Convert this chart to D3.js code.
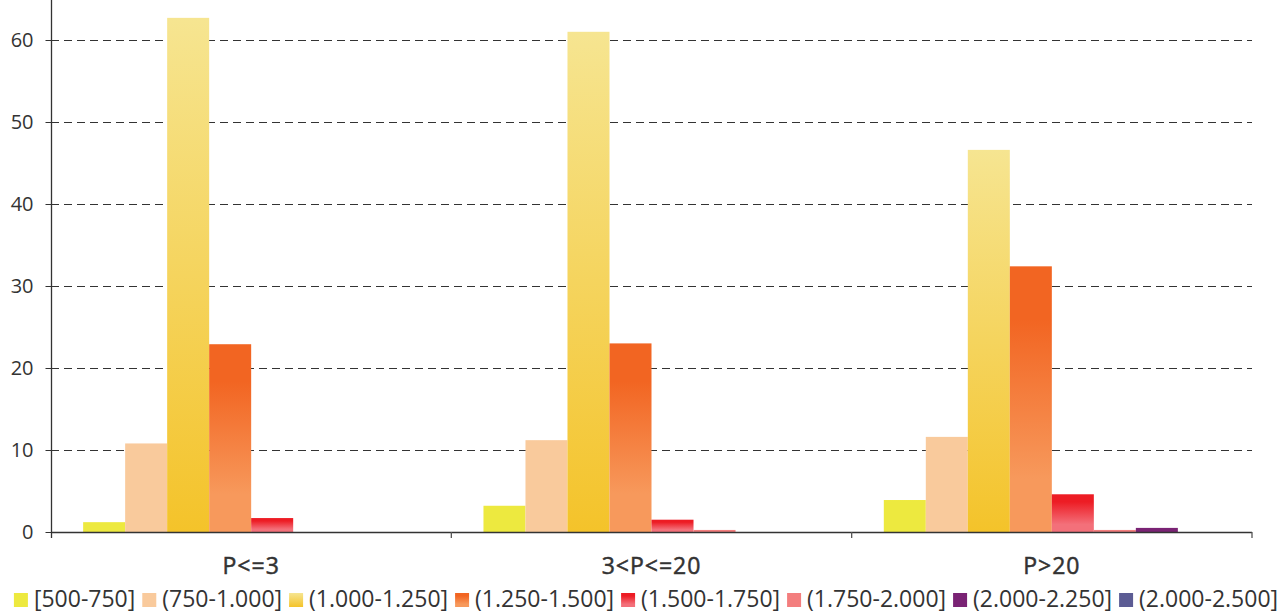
<!DOCTYPE html>
<html><head><meta charset="utf-8">
<script src="https://cdn.jsdelivr.net/npm/d3@7"></script>
<style>
html,body{margin:0;padding:0;background:#fff;}
svg{display:block;font-family:"Open Sans",sans-serif;}
</style></head>
<body>
<svg id="c" width="1286" height="613"></svg>
<script>
const categories = ["P<=3", "3<P<=20", "P>20"];
const seriesNames = ["[500-750]", "(750-1.000]", "(1.000-1.250]", "(1.250-1.500]", "(1.500-1.750]", "(1.750-2.000]", "(2.000-2.250]", "(2.000-2.500]"];
const s1 = [1.2, 3.2, 3.9];
const s2 = [10.8, 11.2, 11.6];
const s3 = [62.7, 61.0, 46.6];
const s4 = [22.9, 23.0, 32.4];
const s5 = [1.7, 1.5, 4.6];
const s6 = [0, 0.25, 0.25];
const s7 = [0, 0, 0.5];
const s8 = [0, 0, 0];
const seriesValues = [s1, s2, s3, s4, s5, s6, s7, s8];
const yTicks = [0, 10, 20, 30, 40, 50, 60];

const colors = [
  ["#ede93f", "#ede93f"],
  ["#f9ca9c", "#f9ca9c"],
  ["#f6e591", "#f4c32a"],
  ["#f26522", "#f7995c"],
  ["#ed1c24", "#f3707a"],
  ["#f37e7e", "#f37e7e"],
  ["#7a2374", "#7a2374"],
  ["#5c5c94", "#5c5c94"]
];

const svg = d3.select("#c");
const left = 51, right = 1252, zeroY = 532;
const y = d3.scaleLinear().domain([0, 60]).range([zeroY, 40]);
const x0 = d3.scaleBand().domain(categories).range([left, right]).paddingInner(0).paddingOuter(0);
const x1 = d3.scaleBand().domain(seriesNames).range([0, x0.bandwidth()]).paddingInner(0).paddingOuter(0.765);

const defs = svg.append("defs");
colors.forEach((c, i) => {
  const g = defs.append("linearGradient").attr("id", "g" + i)
    .attr("x1", 0).attr("y1", 0).attr("x2", 0).attr("y2", 1);
  if (i === 3 || i === 4) {
    g.append("stop").attr("offset", "0%").attr("stop-color", c[0]);
    g.append("stop").attr("offset", "20%").attr("stop-color", c[0]);
    g.append("stop").attr("offset", "80%").attr("stop-color", c[1]);
    g.append("stop").attr("offset", "100%").attr("stop-color", c[1]);
  } else {
    g.append("stop").attr("offset", "0%").attr("stop-color", c[0]);
    g.append("stop").attr("offset", "100%").attr("stop-color", c[1]);
  }
});

// gridlines
svg.append("g").selectAll("line").data(yTicks.filter(d => d > 0)).join("line")
  .attr("x1", left).attr("x2", right)
  .attr("y1", d => Math.round(y(d)) + 0.5).attr("y2", d => Math.round(y(d)) + 0.5)
  .attr("stroke", "#333").attr("stroke-width", 1).attr("stroke-dasharray", "8,5");

// bars
const groups = svg.append("g").selectAll("g").data(categories).join("g")
  .attr("transform", d => `translate(${x0(d)},0)`);
groups.selectAll("rect")
  .data((c, ci) => seriesNames.map((s, si) => ({s, si, v: seriesValues[si][ci]})).filter(d => d.v > 0))
  .join("rect")
  .attr("x", d => x1(d.s))
  .attr("width", x1.bandwidth())
  .attr("y", d => y(d.v))
  .attr("height", d => zeroY - y(d.v))
  .attr("fill", d => `url(#g${d.si})`);

// y axis
const yAxis = d3.axisLeft(y).tickValues(yTicks).tickSize(6).tickPadding(12).tickSizeOuter(0);
const ga = svg.append("g").attr("transform", `translate(${left + 0.5},0)`).call(yAxis);
ga.select(".domain").remove();
ga.append("line").attr("x1", 0).attr("x2", 0).attr("y1", 0).attr("y2", zeroY + 6)
  .attr("stroke", "#333").attr("stroke-width", 1.3);
ga.selectAll(".tick line").attr("stroke", "#333").attr("stroke-width", 1);
ga.selectAll(".tick text").attr("fill", "#333").style("font-size", "20px")
  .style("font-family", "'Open Sans',sans-serif");

// x axis
svg.append("line").attr("x1", left).attr("x2", right).attr("y1", zeroY + 0.5).attr("y2", zeroY + 0.5)
  .attr("stroke", "#333").attr("stroke-width", 1.3);
const bounds = categories.map(c => x0(c)).slice(1).concat([right]);
svg.append("g").selectAll("line").data(bounds).join("line")
  .attr("x1", d => d).attr("x2", d => d).attr("y1", zeroY).attr("y2", zeroY + 6)
  .attr("stroke", "#555").attr("stroke-width", 1.3);
svg.append("g").selectAll("text").data(categories).join("text")
  .attr("x", d => x0(d) + x0.bandwidth() / 2).attr("y", 574)
  .attr("text-anchor", "middle").attr("fill", "#333")
  .attr("stroke", "#333").attr("stroke-width", 0.5).attr("letter-spacing", 1)
  .style("font-size", "23px").text(d => d);

// legend
const lg = svg.append("g");
const items = lg.selectAll("g").data(seriesNames).join("g");
items.append("rect").attr("width", 14).attr("height", 14).attr("y", 593)
  .attr("fill", (d, i) => `url(#g${i})`);
items.append("text").attr("y", 607).attr("fill", "#333").style("font-size", "23px").text(d => d);
let xpos = 0;
items.each(function () {
  const g = d3.select(this);
  g.select("rect").attr("x", xpos);
  g.select("text").attr("x", xpos + 20);
  xpos += 20 + g.select("text").node().getComputedTextLength() + 7;
});
const total = xpos - 7;
lg.attr("transform", `translate(${646 - total / 2},0)`);
</script>
</body></html>
